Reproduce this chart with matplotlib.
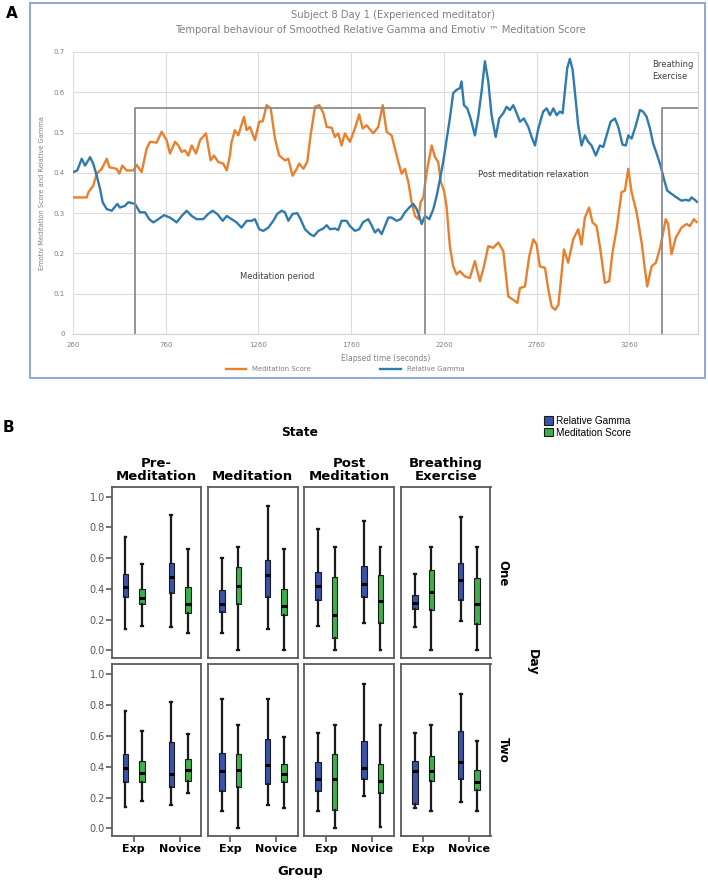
import matplotlib
matplotlib.use("Agg")
import matplotlib.pyplot as plt
from matplotlib.patches import Rectangle, Patch
from matplotlib.lines import Line2D

# ==========================
# Panel A data
# ==========================

med_t = [262, 334, 343, 369, 388, 415, 442, 456, 495, 510, 526, 549, 585, 603, 630, 657, 675, 711,
         738, 765, 783, 810, 828, 846, 864, 882, 900, 923, 945, 977, 1002, 1020, 1043, 1070, 1089,
         1106, 1115, 1133, 1151, 1182, 1196, 1214, 1241, 1264, 1283, 1304, 1326, 1349, 1372, 1403,
         1421, 1444, 1466, 1480, 1502, 1523, 1541, 1565, 1588, 1610, 1628, 1655, 1672, 1690, 1708,
         1726, 1753, 1780, 1803, 1822, 1843, 1879, 1906, 1930, 1951, 1978, 1996, 2014, 2032, 2050,
         2068, 2086, 2104, 2122, 2134, 2149, 2167, 2194, 2212, 2229, 2244, 2260, 2274, 2292, 2310,
         2328, 2346, 2373, 2400, 2427, 2454, 2476, 2499, 2526, 2553, 2580, 2607, 2634, 2656, 2670,
         2697, 2720, 2742, 2760, 2777, 2805, 2823, 2841, 2859, 2877, 2895, 2907, 2930, 2957, 2984,
         3002, 3020, 3043, 3061, 3083, 3101, 3128, 3151, 3169, 3191, 3218, 3236, 3254, 3272, 3299,
         3326, 3344, 3356, 3380, 3403, 3428, 3456, 3469, 3487, 3510, 3541, 3568, 3586, 3608, 3622]
med_v = [0.339, 0.339, 0.352, 0.368, 0.398, 0.41, 0.435, 0.414, 0.41, 0.398, 0.418, 0.406, 0.406,
         0.42, 0.402, 0.46, 0.477, 0.475, 0.502, 0.481, 0.448, 0.477, 0.468, 0.452, 0.456, 0.443,
         0.468, 0.448, 0.481, 0.498, 0.431, 0.443, 0.427, 0.423, 0.406, 0.443, 0.477, 0.506, 0.493,
         0.539, 0.506, 0.514, 0.481, 0.527, 0.528, 0.568, 0.56, 0.485, 0.443, 0.431, 0.435, 0.393,
         0.41, 0.423, 0.41, 0.427, 0.493, 0.564, 0.568, 0.548, 0.514, 0.512, 0.489, 0.498, 0.468,
         0.498, 0.477, 0.51, 0.545, 0.51, 0.518, 0.498, 0.514, 0.568, 0.502, 0.493, 0.46, 0.427,
         0.398, 0.41, 0.377, 0.327, 0.293, 0.285, 0.327, 0.339, 0.402, 0.468, 0.439, 0.427, 0.377,
         0.356, 0.318, 0.218, 0.168, 0.148, 0.156, 0.143, 0.139, 0.181, 0.131, 0.168, 0.218, 0.214,
         0.227, 0.206, 0.093, 0.085, 0.077, 0.114, 0.118, 0.193, 0.235, 0.222, 0.168, 0.164, 0.11,
         0.068, 0.06, 0.072, 0.152, 0.21, 0.177, 0.235, 0.26, 0.222, 0.289, 0.314, 0.277, 0.268,
         0.218, 0.127, 0.131, 0.202, 0.26, 0.352, 0.356, 0.41, 0.352, 0.302, 0.227, 0.16, 0.118,
         0.168, 0.177, 0.218, 0.285, 0.273, 0.198, 0.239, 0.264, 0.273, 0.268, 0.285, 0.278]

gam_t = [262, 283, 307, 325, 337, 352, 369, 388, 406, 420, 442, 469, 499, 513, 540, 558, 594, 621,
         648, 671, 693, 720, 751, 783, 819, 846, 873, 900, 927, 962, 989, 1013, 1038, 1067, 1089,
         1115, 1142, 1169, 1196, 1223, 1241, 1264, 1286, 1313, 1340, 1361, 1385, 1403, 1421, 1444,
         1469, 1487, 1511, 1538, 1559, 1583, 1610, 1628, 1646, 1672, 1690, 1708, 1735, 1753, 1780,
         1803, 1825, 1852, 1870, 1888, 1906, 1924, 1942, 1960, 1978, 2005, 2027, 2050, 2073, 2095,
         2113, 2127, 2140, 2158, 2181, 2203, 2221, 2239, 2256, 2274, 2292, 2310, 2328, 2346, 2355,
         2368, 2386, 2404, 2427, 2445, 2463, 2481, 2499, 2517, 2539, 2558, 2580, 2598, 2616, 2634,
         2652, 2670, 2691, 2715, 2733, 2751, 2769, 2795, 2814, 2832, 2850, 2868, 2885, 2900, 2912,
         2925, 2939, 2954, 2966, 2984, 3002, 3020, 3038, 3056, 3079, 3101, 3119, 3137, 3159, 3182,
         3200, 3223, 3241, 3254, 3272, 3295, 3317, 3334, 3353, 3371, 3388, 3407, 3428, 3446, 3464,
         3487, 3514, 3541, 3564, 3582, 3595, 3613, 3625]
gam_v = [0.402, 0.406, 0.435, 0.418, 0.427, 0.439, 0.423, 0.393, 0.36, 0.327, 0.31, 0.306, 0.323,
         0.314, 0.318, 0.327, 0.323, 0.302, 0.302, 0.285, 0.277, 0.285, 0.295, 0.289, 0.277, 0.293,
         0.306, 0.293, 0.285, 0.285, 0.298, 0.306, 0.298, 0.281, 0.293, 0.285, 0.277, 0.264, 0.281,
         0.281, 0.285, 0.26, 0.256, 0.264, 0.281, 0.298, 0.306, 0.302, 0.281, 0.298, 0.3, 0.285,
         0.26, 0.248, 0.243, 0.256, 0.262, 0.27, 0.26, 0.262, 0.258, 0.281, 0.281, 0.268, 0.256,
         0.26, 0.278, 0.285, 0.27, 0.252, 0.26, 0.248, 0.268, 0.289, 0.289, 0.281, 0.285, 0.302,
         0.314, 0.323, 0.31, 0.293, 0.273, 0.293, 0.285, 0.31, 0.343, 0.385, 0.427, 0.481, 0.535,
         0.598, 0.606, 0.61, 0.627, 0.568, 0.56, 0.535, 0.493, 0.539, 0.602, 0.677, 0.627, 0.543,
         0.489, 0.535, 0.548, 0.564, 0.556, 0.568, 0.548, 0.527, 0.535, 0.514, 0.489, 0.468, 0.51,
         0.552, 0.56, 0.543, 0.56, 0.543, 0.552, 0.548, 0.602, 0.66, 0.683, 0.656, 0.602, 0.518,
         0.468, 0.493, 0.477, 0.468, 0.443, 0.468, 0.464, 0.493, 0.527, 0.535, 0.514, 0.47, 0.468,
         0.493, 0.485, 0.518, 0.556, 0.552, 0.539, 0.51, 0.473, 0.448, 0.418, 0.385, 0.356, 0.348,
         0.339, 0.331, 0.333, 0.331, 0.339, 0.333, 0.328]

x_ticks_a = [260, 760, 1260, 1760, 2260, 2760, 3260]
y_ticks_a = [0, 0.1, 0.2, 0.3, 0.4, 0.5, 0.6, 0.7]
y_ticklabels_a = ["0", "0.1", "0.2", "0.3", "0.4", "0.5", "0.6", "0.7"]

# period markers (seconds) and marker height
meditation_period = [594, 2156]
breathing_start = 3434
period_height = 0.56

# ==========================
# Panel B data: [low whisker, Q1, median, Q3, high whisker]
# order: Pre Exp, Pre Novice, Med Exp, Med Novice, Post Exp, Post Novice, Breath Exp, Breath Novice
# ==========================

states = ["Pre-\nMeditation", "Meditation", "Post\nMeditation", "Breathing\nExercise"]
groups = ["Exp", "Novice"]
days = ["One", "Two"]

day1_gamma = [[0.14, 0.35, 0.41, 0.50, 0.74], [0.15, 0.37, 0.48, 0.57, 0.88],
              [0.11, 0.25, 0.30, 0.39, 0.60], [0.14, 0.35, 0.49, 0.59, 0.94],
              [0.16, 0.33, 0.42, 0.51, 0.79], [0.18, 0.35, 0.43, 0.55, 0.84],
              [0.15, 0.27, 0.31, 0.36, 0.50], [0.19, 0.33, 0.46, 0.57, 0.87]]
day1_med = [[0.16, 0.30, 0.34, 0.40, 0.56], [0.11, 0.24, 0.30, 0.41, 0.66],
            [0.00, 0.30, 0.42, 0.54, 0.67], [0.00, 0.23, 0.29, 0.40, 0.66],
            [0.00, 0.08, 0.23, 0.48, 0.67], [0.00, 0.18, 0.32, 0.49, 0.67],
            [0.00, 0.26, 0.38, 0.52, 0.67], [0.00, 0.17, 0.30, 0.47, 0.67]]
day2_gamma = [[0.14, 0.30, 0.39, 0.48, 0.76], [0.15, 0.27, 0.35, 0.56, 0.82],
              [0.11, 0.24, 0.37, 0.49, 0.84], [0.15, 0.29, 0.41, 0.58, 0.84],
              [0.11, 0.24, 0.32, 0.43, 0.62], [0.21, 0.32, 0.39, 0.57, 0.94],
              [0.13, 0.16, 0.37, 0.44, 0.62], [0.17, 0.32, 0.43, 0.63, 0.87]]
day2_med = [[0.18, 0.30, 0.36, 0.44, 0.63], [0.23, 0.31, 0.38, 0.45, 0.61],
            [0.00, 0.27, 0.38, 0.48, 0.67], [0.13, 0.30, 0.35, 0.42, 0.59],
            [0.00, 0.12, 0.32, 0.48, 0.67], [0.01, 0.23, 0.31, 0.42, 0.67],
            [0.11, 0.31, 0.37, 0.47, 0.67], [0.11, 0.25, 0.30, 0.38, 0.57]]

y_ticks_b = [0.0, 0.2, 0.4, 0.6, 0.8, 1.0]

# ==========================
# Figure
# ==========================

W, H = 708, 882
fig = plt.figure(figsize=(W / 100, H / 100), dpi=100)


def fx(px):
    return px / W


def fy(py):
    return 1 - py / H


orange = "#e8802e"
blue = "#2f7bad"
grey_txt = "#808080"

# ---------- Panel A ----------
fig.patches.append(Rectangle((fx(30), fy(378)), fx(705) - fx(30), (378 - 3) / H,
                             transform=fig.transFigure, fill=False,
                             edgecolor="#8ea9d6", lw=1.4))

axA = fig.add_axes([fx(73), fy(334), fx(698) - fx(73), (334 - 52) / H])
axA.plot(med_t, med_v, color=orange, lw=1.7, label="Meditation Score")
axA.plot(gam_t, gam_v, color=blue, lw=1.7, label="Relative Gamma")

pc = "#8c8c8c"
axA.plot([meditation_period[0], meditation_period[0], meditation_period[1], meditation_period[1]],
         [0, period_height, period_height, 0], color=pc, lw=1.3)
axA.plot([breathing_start, breathing_start, 3630], [0, period_height, period_height], color=pc, lw=1.3)

axA.set_xlim(260, 3630)
axA.set_ylim(0, 0.7)
axA.set_xticks(x_ticks_a)
axA.set_yticks(y_ticks_a)
axA.set_yticklabels(y_ticklabels_a)
axA.grid(True, color="#dcdcdc", lw=0.8)
axA.set_axisbelow(True)
for s in ["top", "left"]:
    axA.spines[s].set_visible(False)
for s in ["bottom", "right"]:
    axA.spines[s].set_color("#d0d0d0")
axA.tick_params(length=0, labelsize=5, labelcolor=grey_txt, pad=6)
axA.set_xlabel("Elapsed time (seconds)", fontsize=5.5, color=grey_txt, labelpad=4)
axA.set_ylabel("Emotiv Meditation Score and Relative Gamma", fontsize=4.8, color=grey_txt, labelpad=6)

axA.text(1360, 0.143, "Meditation period", fontsize=6, color="#404040", ha="center", va="center")
axA.text(2740, 0.395, "Post meditation relaxation", fontsize=6, color="#404040", ha="center", va="center")
axA.text(3380, 0.655, "Breathing\nExercise", fontsize=6, color="#404040", ha="left", va="center",
         linespacing=1.4)

fig.text(fx(393), fy(15), "Subject 8 Day 1 (Experienced meditator)", fontsize=7.2,
         color=grey_txt, ha="center", va="center")
fig.text(fx(380), fy(30), "Temporal behaviour of Smoothed Relative Gamma and Emotiv \u2122 Meditation Score",
         fontsize=7.2, color=grey_txt, ha="center", va="center")

leg = fig.legend(loc="center", bbox_to_anchor=(fx(345), fy(369)), ncol=2, frameon=False,
                 fontsize=5, handlelength=3, columnspacing=10, labelcolor=grey_txt)

fig.text(fx(12), fy(13), "A", fontsize=11, fontweight="bold", ha="center", va="center")

# ---------- Panel B ----------
fig.text(fx(8), fy(427), "B", fontsize=11, fontweight="bold", ha="center", va="center")

col_left = [111.7, 208, 304.3, 401]
col_w = 89.5
row_top = [486.7, 664.3]
row_bot = [658, 836]

gamma_col = "#3a52a8"
medsc_col = "#3cb04a"
off = 0.18

box_data = [[day1_gamma, day1_med], [day2_gamma, day2_med]]


def stats_from(rows):
    out = []
    for lo, q1, md, q3, hi in rows:
        out.append({"whislo": lo, "q1": q1, "med": md, "q3": q3, "whishi": hi, "fliers": []})
    return out


for r in range(2):
    for c in range(4):
        ax = fig.add_axes([fx(col_left[c]), fy(row_bot[r]), col_w / W,
                           (row_bot[r] - row_top[r]) / H])
        for k, (series, colr, sgn) in enumerate([(box_data[r][0], gamma_col, -1),
                                                 (box_data[r][1], medsc_col, 1)]):
            st = stats_from(series[2 * c:2 * c + 2])
            ax.bxp(st, positions=[0 + sgn * off, 1 + sgn * off], widths=0.12,
                   patch_artist=True, showfliers=False, capwidths=0.04,
                   boxprops=dict(facecolor=colr, edgecolor="#1a1a1a", lw=0.8),
                   medianprops=dict(color="black", lw=2.2),
                   whiskerprops=dict(color="#1a1a1a", lw=1.6),
                   capprops=dict(color="#1a1a1a", lw=1.6))
        ax.set_xlim(-0.48, 1.47)
        ax.set_ylim(-0.05, 1.065)
        for s in ax.spines.values():
            s.set_color("#5a5a5a")
            s.set_linewidth(1.3)
        ax.set_yticks(y_ticks_b)
        if c == 0:
            ax.set_yticklabels(["%.1f" % v for v in y_ticks_b])
            ax.tick_params(axis="y", direction="out", length=4, width=1.2, color="#5a5a5a",
                           labelsize=7, labelcolor="#555555", pad=1)
        else:
            ax.tick_params(axis="y", length=0, labelleft=False)
        ax.set_xticks([0, 1])
        if r == 1:
            ax.set_xticklabels(groups, fontsize=8, fontweight="bold")
            ax.tick_params(axis="x", direction="out", length=4, width=1.2, color="#5a5a5a", pad=2)
        else:
            ax.tick_params(axis="x", length=0, labelbottom=False)

for c in range(4):
    fig.text(fx(col_left[c] + col_w / 2), fy(483), states[c], fontsize=9.5, fontweight="bold",
             ha="center", va="bottom", linespacing=1.0)

fig.text(fx(300), fy(432), "State", fontsize=8.8, fontweight="bold", ha="center", va="center")
fig.text(fx(300), fy(871), "Group", fontsize=9.5, fontweight="bold", ha="center", va="center")
fig.text(fx(503), fy(573), days[0], fontsize=8.5, fontweight="bold", rotation=-90,
         ha="center", va="center")
fig.text(fx(503), fy(750), days[1], fontsize=8.5, fontweight="bold", rotation=-90,
         ha="center", va="center")
fig.text(fx(532), fy(662), "Day", fontsize=9, fontweight="bold", rotation=-90,
         ha="center", va="center")

handles = [Patch(facecolor=gamma_col, edgecolor="#1a1a1a", lw=0.8),
           Patch(facecolor=medsc_col, edgecolor="#1a1a1a", lw=0.8)]
fig.legend(handles, ["Relative Gamma", "Meditation Score"], loc="upper left",
           bbox_to_anchor=(fx(544), fy(416)), frameon=False,
           prop={"family": "Liberation Sans", "size": 7.2},
           handlelength=0.9, handleheight=0.9, handletextpad=0.25, labelspacing=0.15,
           borderaxespad=0, borderpad=0)

fig.savefig("out.png", dpi=100)
